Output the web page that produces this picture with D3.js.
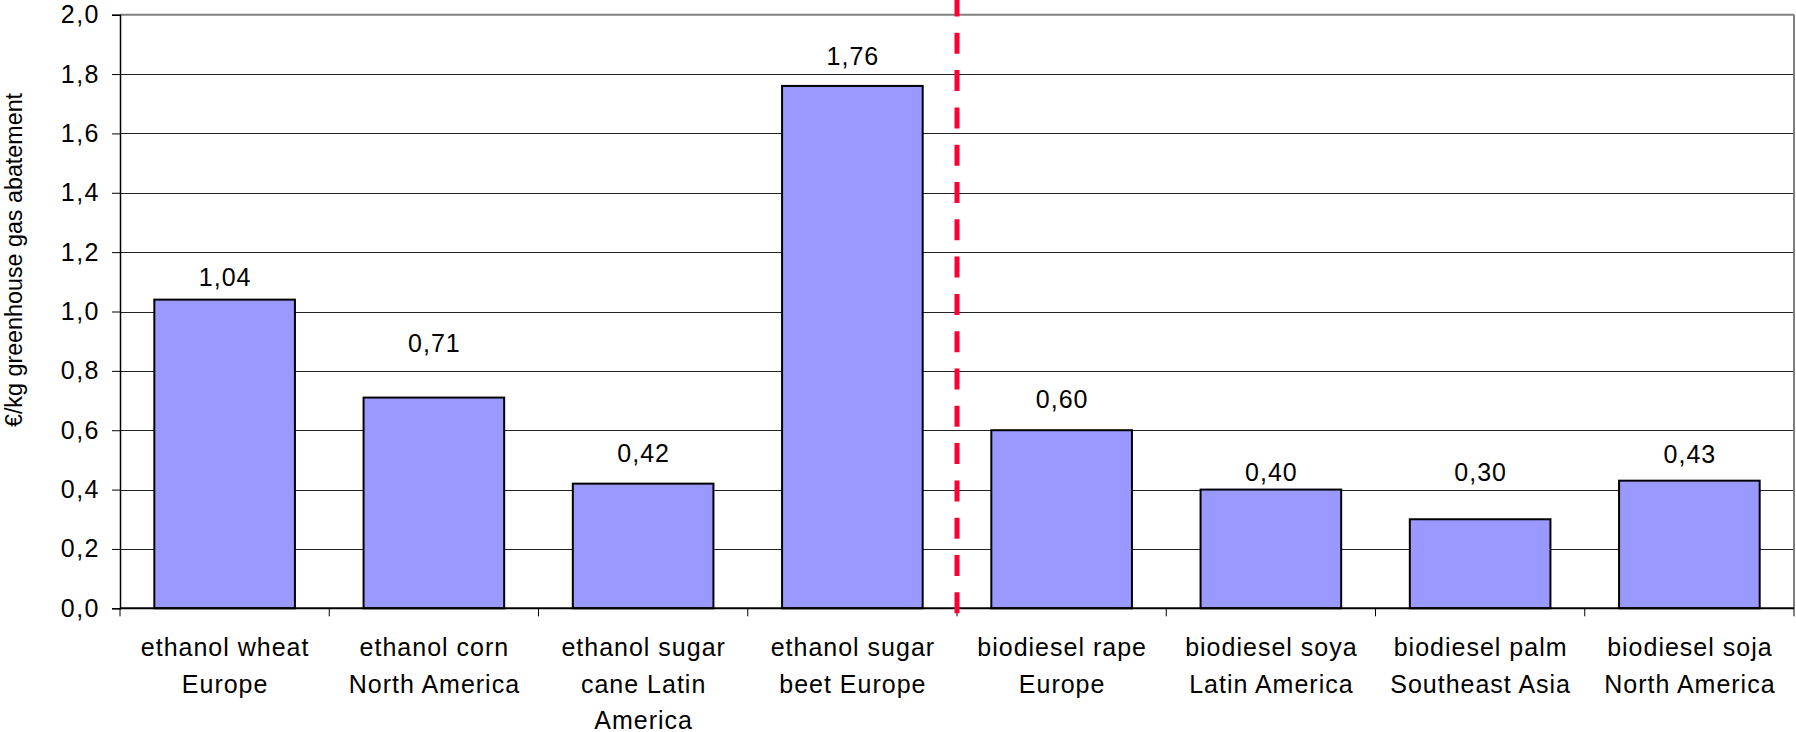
<!DOCTYPE html>
<html>
<head>
<meta charset="utf-8">
<script src="https://cdn.jsdelivr.net/npm/d3@7"></script>
<style>
  html, body { margin: 0; padding: 0; background: #ffffff; }
  svg { display: block; font-family: "Liberation Sans", Arial, sans-serif; }
</style>
</head>
<body>
<svg id="chart" width="1796" height="732"></svg>
<script>
// ---- data ----
const categories = [
  "ethanol wheat\nEurope",
  "ethanol corn\nNorth America",
  "ethanol sugar\ncane Latin\nAmerica",
  "ethanol sugar\nbeet Europe",
  "biodiesel rape\nEurope",
  "biodiesel soya\nLatin America",
  "biodiesel palm\nSoutheast Asia",
  "biodiesel soja\nNorth America"
];
const values = [1.04, 0.71, 0.42, 1.76, 0.60, 0.40, 0.30, 0.43];
const valueLabels = ["1,04", "0,71", "0,42", "1,76", "0,60", "0,40", "0,30", "0,43"];
// level (in axis units) at which each data label's baseline sits
const labelLevels = [1.087, 0.865, 0.494, 1.831, 0.676, 0.430, 0.430, 0.490];
const yTicks = [0, 0.2, 0.4, 0.6, 0.8, 1.0, 1.2, 1.4, 1.6, 1.8, 2.0];
const yTickLabels = ["0,0", "0,2", "0,4", "0,6", "0,8", "1,0", "1,2", "1,4", "1,6", "1,8", "2,0"];
const yTitle = "€/kg greenhouse gas abatement";
const dividerAfter = 4; // red dashed divider between ethanol and biodiesel groups

// ---- layout ----
const W = 1796, H = 732;
const m = { left: 120, right: 2, top: 14.7, bottom: 123.7 };
const svg = d3.select("#chart");
const g = svg.append("g");

const x = d3.scaleBand()
  .domain(d3.range(categories.length))
  .range([m.left, W - m.right])
  .paddingInner(0.328)
  .paddingOuter(0.164);

const y = d3.scaleLinear()
  .domain([0, 2.0])
  .range([H - m.bottom, m.top]);

const fontSize = 25;

// gridlines
g.append("g")
  .selectAll("line")
  .data(yTicks.filter(d => d > 0 && d < 2.0))
  .join("line")
  .attr("x1", m.left).attr("x2", W - m.right)
  .attr("y1", d => Math.round(y(d)) + 0.5).attr("y2", d => Math.round(y(d)) + 0.5)
  .attr("stroke", "#222").attr("stroke-width", 1);

// plot frame (top and right) in gray
g.append("line")
  .attr("x1", m.left).attr("x2", W - m.right)
  .attr("y1", y(2.0)).attr("y2", y(2.0))
  .attr("stroke", "#808080").attr("stroke-width", 2);
g.append("line")
  .attr("x1", W - m.right).attr("x2", W - m.right)
  .attr("y1", y(2.0)).attr("y2", y(0))
  .attr("stroke", "#808080").attr("stroke-width", 2);

// bars
g.append("g")
  .selectAll("rect")
  .data(values)
  .join("rect")
  .attr("x", (d, i) => x(i))
  .attr("y", d => y(d))
  .attr("width", x.bandwidth())
  .attr("height", d => y(0) - y(d))
  .attr("fill", "#9999FF")
  .attr("stroke", "#000")
  .attr("stroke-width", 2);

// y axis
const yAxis = d3.axisLeft(y)
  .tickValues(yTicks)
  .tickFormat((d, i) => yTickLabels[i])
  .tickSize(8)
  .tickPadding(12);
const ya = g.append("g")
  .attr("transform", `translate(${m.left},0)`)
  .call(yAxis);
ya.select(".domain").attr("stroke", "#000").attr("stroke-width", 1.5);
ya.selectAll(".tick line").attr("stroke", "#000").attr("stroke-width", 1);
ya.selectAll(".tick text")
  .attr("font-size", fontSize)
  .attr("font-family", "Liberation Sans, Arial, sans-serif")
  .attr("letter-spacing", 1.5)
  .attr("fill", "#000");

// x axis line + ticks at band boundaries
const step = x.step();
const x0 = m.left;
const boundaries = d3.range(categories.length + 1).map(i => x0 + i * step);
g.append("line")
  .attr("x1", m.left).attr("x2", W - m.right)
  .attr("y1", y(0)).attr("y2", y(0))
  .attr("stroke", "#000").attr("stroke-width", 2);
g.append("g")
  .selectAll("line")
  .data(boundaries)
  .join("line")
  .attr("x1", d => d).attr("x2", d => d)
  .attr("y1", y(0)).attr("y2", y(0) + 8)
  .attr("stroke", "#000").attr("stroke-width", 1);

// category labels
const catG = g.append("g")
  .selectAll("text")
  .data(categories)
  .join("text")
  .attr("text-anchor", "middle")
  .attr("font-size", fontSize)
  .attr("letter-spacing", 1)
  .attr("fill", "#000")
  .attr("transform", (d, i) => `translate(${x(i) + x.bandwidth() / 2 + 0.5},${y(0) + 48})`);
catG.selectAll("tspan")
  .data(d => d.split("\n"))
  .join("tspan")
  .attr("x", 0)
  .attr("y", (d, i) => i * 36.4)
  .text(d => d);

// data labels
g.append("g")
  .selectAll("text")
  .data(values)
  .join("text")
  .attr("x", (d, i) => x(i) + x.bandwidth() / 2 + 0.5)
  .attr("y", (d, i) => y(labelLevels[i]))
  .attr("text-anchor", "middle")
  .attr("font-size", fontSize)
  .attr("letter-spacing", 1)
  .attr("fill", "#000")
  .text((d, i) => valueLabels[i]);

// red dashed divider
const divX = x0 + dividerAfter * step;
g.append("line")
  .attr("x1", divX).attr("x2", divX)
  .attr("y1", y(0) + 5).attr("y2", 0)
  .attr("stroke", "#FF0033")
  .attr("stroke-width", 5)
  .attr("stroke-dasharray", "21,16.3");

// y title
svg.append("text")
  .attr("transform", `translate(22,260) rotate(-90)`)
  .attr("text-anchor", "middle")
  .attr("font-size", 23.3)
  .attr("fill", "#000")
  .text(yTitle);
</script>
</body>
</html>
